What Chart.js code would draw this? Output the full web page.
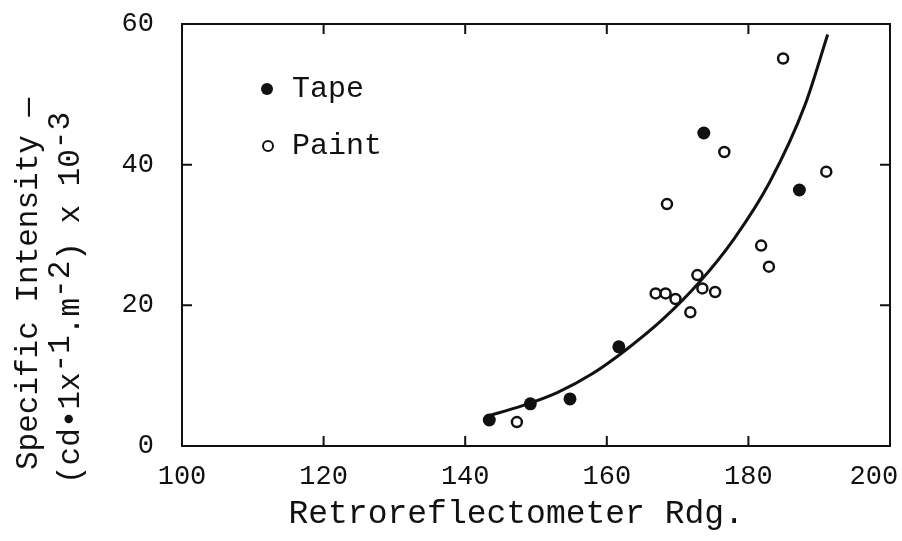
<!DOCTYPE html>
<html>
<head>
<meta charset="utf-8">
<script src="https://cdn.jsdelivr.net/npm/chart.js@4.4.1/dist/chart.umd.min.js"></script>
<style>
    html, body { margin: 0; padding: 0; background: #fff; }
    #wrap { width: 902px; height: 541px; position: relative; }
</style>
</head>
<body>
<div id="wrap"><canvas id="intensityChart"></canvas></div>
<script>
// values
const tapeX = [143.4, 149.2, 154.8, 161.7, 173.7, 187.2];
const tapeY = [3.7, 6.0, 6.7, 14.1, 44.5, 36.4];

const paintX = [147.3, 166.9, 168.3, 169.7, 171.8, 172.8, 173.5, 175.3, 168.5, 176.6, 181.8, 182.9, 184.9, 191.0];
const paintY = [3.4, 21.7, 21.7, 20.9, 19.0, 24.3, 22.4, 21.9, 34.4, 41.8, 28.5, 25.5, 55.1, 39.0];

// fitted curve
const curveX = [143.0, 148.0, 153.0, 158.0, 163.0, 168.0, 173.0, 178.0, 183.0, 188.0, 191.2];
const curveY = [4.2, 5.7, 7.6, 10.3, 13.9, 18.1, 23.2, 29.5, 37.5, 48.5, 58.5];

const xTicks = [100, 120, 140, 160, 180, 200];
const yTicks = [0, 20, 40, 60];

const xTitle = 'Retroreflectometer Rdg.  ';
const yTitleLine1 = [['Specific Intensity \u2014', false]];
const yTitleLine2 = [['(cd\u20221x', false], ['-1', true], ['.m', false], ['-2', true], [') x 10', false], ['-3', true]];

const FONT = "'Liberation Mono', 'DejaVu Sans Mono', monospace";
const INK = '#111';

const toPoints = (xs, ys) => xs.map((x, i) => ({ x: x, y: ys[i] }));

// frame on all four sides + inward ticks
const framePlugin = {
    id: 'frame',
    afterDraw(chart) {
        const { ctx, chartArea: a, scales } = chart;
        const len = 10;
        ctx.save();
        ctx.strokeStyle = INK;
        ctx.lineWidth = 2;
        ctx.strokeRect(a.left, a.top, a.right - a.left, a.bottom - a.top);
        ctx.beginPath();
        xTicks.slice(1, -1).forEach(v => {
            const px = scales.x.getPixelForValue(v);
            ctx.moveTo(px, a.bottom); ctx.lineTo(px, a.bottom - len);
            ctx.moveTo(px, a.top); ctx.lineTo(px, a.top + len);
        });
        yTicks.slice(1, -1).forEach(v => {
            const py = scales.y.getPixelForValue(v);
            ctx.moveTo(a.left, py); ctx.lineTo(a.left + len, py);
            ctx.moveTo(a.right, py); ctx.lineTo(a.right - len, py);
        });
        ctx.stroke();
        ctx.restore();
    }
};

// rotated y title with raised exponents
const yTitlePlugin = {
    id: 'yTitle',
    afterDraw(chart) {
        const { ctx } = chart;
        const drawLine = (parts, bx, by, size) => {
            ctx.save();
            ctx.translate(bx, by);
            ctx.rotate(-Math.PI / 2);
            ctx.font = size + 'px ' + FONT;
            ctx.fillStyle = INK;
            ctx.textAlign = 'left';
            ctx.textBaseline = 'alphabetic';
            let x = 0;
            parts.forEach(([txt, sup]) => {
                ctx.fillText(txt, x, sup ? -10 : 0);
                x += ctx.measureText(txt).width;
            });
            ctx.restore();
        };
        drawLine(yTitleLine1, 37, 470, 31);
        drawLine(yTitleLine2, 79, 484, 31);
    }
};

// legend drawn inside the plot area
const legendPlugin = {
    id: 'innerLegend',
    afterDraw(chart) {
        const { ctx } = chart;
        const rows = [
            { ds: chart.data.datasets[1], x: 267, y: 89, r: 6, fill: true },
            { ds: chart.data.datasets[2], x: 268, y: 146, r: 5, fill: false }
        ];
        ctx.save();
        rows.forEach(row => {
            ctx.beginPath();
            ctx.arc(row.x, row.y, row.r, 0, Math.PI * 2);
            if (row.fill) {
                ctx.fillStyle = INK;
                ctx.fill();
            } else {
                ctx.strokeStyle = INK;
                ctx.lineWidth = 2;
                ctx.stroke();
            }
            ctx.font = '30px ' + FONT;
            ctx.fillStyle = INK;
            ctx.textBaseline = 'middle';
            ctx.fillText(row.ds.label, 292, row.y);
        });
        ctx.restore();
    }
};

const ctx = document.getElementById('intensityChart').getContext('2d');

new Chart(ctx, {
    type: 'scatter',
    data: {
        datasets: [
            {
                label: 'Fit',
                type: 'line',
                data: toPoints(curveX, curveY),
                borderColor: INK,
                borderWidth: 3,
                pointRadius: 0,
                fill: false,
                cubicInterpolationMode: 'monotone'
            },
            {
                label: 'Tape',
                data: toPoints(tapeX, tapeY),
                pointStyle: 'circle',
                pointRadius: 6.5,
                backgroundColor: INK,
                borderColor: INK,
                borderWidth: 0
            },
            {
                label: 'Paint',
                data: toPoints(paintX, paintY),
                pointStyle: 'circle',
                pointRadius: 5,
                backgroundColor: '#fff',
                borderColor: INK,
                borderWidth: 2.5
            }
        ]
    },
    options: {
        responsive: true,
        maintainAspectRatio: false,
        animation: false,
        layout: { padding: { top: 24, right: 12, left: 0, bottom: 0 } },
        plugins: {
            legend: { display: false },
            tooltip: { enabled: false }
        },
        scales: {
            x: {
                type: 'linear',
                min: 100,
                max: 200,
                afterFit: s => {
                    s.height = 95;
                    s.paddingLeft = 0;
                    s.paddingRight = 0;
                },
                afterBuildTicks: s => { s.ticks = xTicks.map(v => ({ value: v })); },
                grid: { display: false, drawTicks: false },
                border: { display: false },
                ticks: {
                    padding: 15,
                    color: INK,
                    font: { family: FONT, size: 27 },
                    // last label sits a little inside the right edge, as in the original
                    callback: v => (v === xTicks[xTicks.length - 1] ? v + '  ' : String(v))
                },
                title: {
                    display: true,
                    text: xTitle,
                    color: INK,
                    font: { family: FONT, size: 33 },
                    padding: { top: 0, bottom: 7 }
                }
            },
            y: {
                type: 'linear',
                min: 0,
                max: 60,
                afterFit: s => {
                    s.width = 182;
                    s.paddingTop = 0;
                    s.paddingBottom = 0;
                },
                afterBuildTicks: s => { s.ticks = yTicks.map(v => ({ value: v })); },
                grid: { display: false, drawTicks: false },
                border: { display: false },
                ticks: {
                    padding: 28,
                    color: INK,
                    font: { family: FONT, size: 27 }
                }
            }
        }
    },
    plugins: [framePlugin, yTitlePlugin, legendPlugin]
});
</script>
</body>
</html>
